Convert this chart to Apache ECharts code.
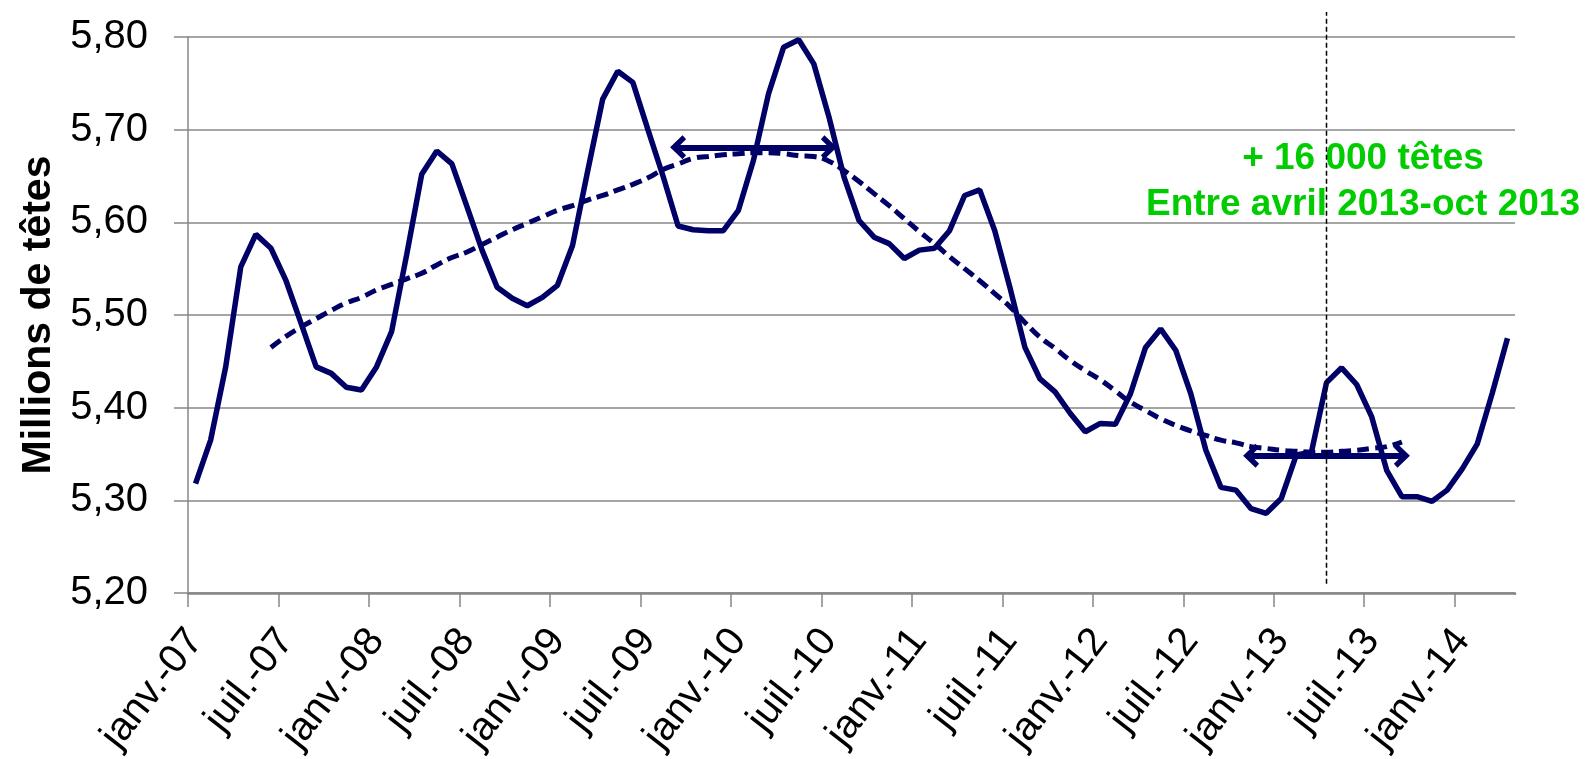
<!DOCTYPE html>
<html>
<head>
<meta charset="utf-8">
<script src="https://cdn.jsdelivr.net/npm/echarts@6/dist/echarts.min.js"></script>
<style>
  html, body { margin: 0; padding: 0; background: #fff; }
  #chart { width: 1592px; height: 759px; }
</style>
</head>
<body>
<div id="chart"></div>
<script>
// months janv. 2007 -> avr. 2014
const monthNames = ['janv.', 'févr.', 'mars', 'avr.', 'mai', 'juin', 'juil.', 'août', 'sept.', 'oct.', 'nov.', 'déc.'];
const years = ['07', '08', '09', '10', '11', '12', '13', '14'];
const months = [];
years.forEach(y => monthNames.forEach(m => months.push(m + '-' + y)));
months.splice(88);

// cheptel mensuel (millions de têtes)
const cheptel = [
  5.318, 5.365, 5.444, 5.552, 5.587, 5.572, 5.537, 5.491, 5.444, 5.437, 5.422, 5.419,
  5.444, 5.482, 5.565, 5.652, 5.677, 5.663, 5.617, 5.570, 5.530, 5.518, 5.510, 5.519,
  5.532, 5.575, 5.655, 5.733, 5.763, 5.751, 5.700, 5.650, 5.596, 5.592, 5.591, 5.591,
  5.613, 5.667, 5.739, 5.789, 5.797, 5.771, 5.714, 5.649, 5.602, 5.584, 5.577, 5.561,
  5.570, 5.572, 5.591, 5.629, 5.635, 5.591, 5.530, 5.465, 5.431, 5.417, 5.394, 5.374,
  5.383, 5.382, 5.415, 5.465, 5.485, 5.462, 5.415, 5.354, 5.314, 5.311, 5.291, 5.286,
  5.302, 5.349, 5.352, 5.427, 5.443, 5.425, 5.390, 5.332, 5.304, 5.304, 5.299, 5.311,
  5.334, 5.361, 5.416, 5.475
];

// tendance (moyenne mobile)
const tendance = [
  null, null, null, null, null, 5.465, 5.477, 5.487, 5.496, 5.505, 5.513, 5.519,
  5.527, 5.533, 5.539, 5.545, 5.554, 5.562, 5.568, 5.576, 5.584, 5.592, 5.599, 5.606,
  5.613, 5.618, 5.624, 5.629, 5.635, 5.641, 5.648, 5.657, 5.663, 5.669, 5.671, 5.673,
  5.674, 5.675, 5.675, 5.674, 5.672, 5.671, 5.666, 5.656, 5.644, 5.631, 5.618, 5.604,
  5.590, 5.577, 5.563, 5.550, 5.537, 5.523, 5.509, 5.492, 5.476, 5.464, 5.451, 5.440,
  5.430, 5.418, 5.406, 5.397, 5.388, 5.381, 5.375, 5.370, 5.365, 5.362, 5.358, 5.356,
  5.354, 5.353, 5.352, 5.352, 5.353, 5.354, 5.356, 5.358, 5.363, null, null, null,
  null, null, null, null
];

// flèches : [début, fin, niveau]
const arrows = [
  ['sept.-09', 'juil.-10', 5.681],
  ['nov.-12', 'sept.-13', 5.348]
];
const repere = { month: 'avr.-13', from: 5.21, to: 5.827 };
const annotation = ['+ 16 000 têtes', 'Entre avril 2013-oct 2013'];

const navy = '#000066';
const gridGray = '#878787';
const font = "'Liberation Sans', Arial, sans-serif";
const chevron = 'path://M12,0 L24,14 L20,18 L12,9 L4,18 L0,14 Z';

const chart = echarts.init(document.getElementById('chart'));

const option = {
  animation: false,
  grid: { left: 188, right: 77, top: 37, bottom: 166, containLabel: false },
  xAxis: {
    type: 'category',
    data: months,
    boundaryGap: true,
    axisLine: { lineStyle: { color: gridGray, width: 2.5 } },
    axisTick: { show: true, interval: 5, length: 14, lineStyle: { color: gridGray, width: 1.5 } },
    axisLabel: {
      interval: 5,
      rotate: 52,
      margin: 41,
      fontSize: 40,
      fontFamily: font,
      color: '#000'
    },
    splitLine: { show: false }
  },
  yAxis: {
    type: 'value',
    min: 5.2,
    max: 5.8,
    interval: 0.1,
    name: 'Millions de têtes',
    nameLocation: 'middle',
    nameRotate: 90,
    nameGap: 129,
    nameTextStyle: { fontSize: 41, fontWeight: 'bold', fontFamily: font, color: '#000' },
    axisLine: { show: true, lineStyle: { color: gridGray, width: 1.5 } },
    axisTick: { show: true, length: 14, lineStyle: { color: gridGray, width: 1.5 } },
    axisLabel: {
      margin: 40,
      fontSize: 40,
      fontFamily: font,
      color: '#000',
      formatter: v => v.toFixed(2).replace('.', ',')
    },
    splitLine: { lineStyle: { color: gridGray, width: 1.5 } }
  },
  series: [
    {
      name: 'Cheptel',
      type: 'line',
      data: cheptel,
      symbol: 'none',
      lineStyle: { color: navy, width: 5.5 },
      z: 3
    },
    {
      name: 'Tendance',
      type: 'line',
      data: tendance,
      symbol: 'none',
      smooth: true,
      lineStyle: { color: navy, width: 5, type: [12, 6] },
      z: 2
    },
    {
      name: 'Flèches',
      type: 'line',
      data: [],
      clip: false,
      markLine: {
        silent: true,
        symbol: [chevron, chevron],
        symbolSize: [24, 16],
        label: { show: false },
        lineStyle: { color: navy, width: 6, type: 'solid' },
        data: arrows.map(a => [{ coord: [a[0], a[2]] }, { coord: [a[1], a[2]] }])
      },
      z: 4
    }
  ],
  graphic: annotation.map((t, i) => ({
    id: 'note' + i,
    type: 'text',
    x: 1363,
    y: 159 + i * 46,
    z: 10,
    style: {
      text: t,
      fill: '#00cc00',
      font: 'bold 37px ' + font,
      textAlign: 'center',
      textVerticalAlign: 'middle'
    }
  }))
};

chart.setOption(option);

// repère vertical (dépasse le haut de la zone de tracé)
const rx = chart.convertToPixel({ xAxisIndex: 0 }, repere.month);
const ry1 = chart.convertToPixel({ yAxisIndex: 0 }, repere.from);
const ry2 = chart.convertToPixel({ yAxisIndex: 0 }, repere.to);
// the band axis always adds a tick at its right end; mask it
const band = chart.convertToPixel({ xAxisIndex: 0 }, months[1]) - chart.convertToPixel({ xAxisIndex: 0 }, months[0]);
const xEnd = chart.convertToPixel({ xAxisIndex: 0 }, months[months.length - 1]) + band / 2;
const yBase = chart.convertToPixel({ yAxisIndex: 0 }, 5.2);
chart.setOption({
  graphic: [
    {
      id: 'repere',
      type: 'line',
      z: 20,
      shape: { x1: rx, y1: ry1, x2: rx, y2: ry2 },
      style: { stroke: '#000', lineWidth: 1.5, lineDash: [5, 3] }
    },
    {
      id: 'maskTick',
      type: 'rect',
      z: 20,
      shape: { x: xEnd - 3, y: yBase + 2, width: 6, height: 16 },
      style: { fill: '#fff' }
    }
  ]
});
</script>
</body>
</html>
